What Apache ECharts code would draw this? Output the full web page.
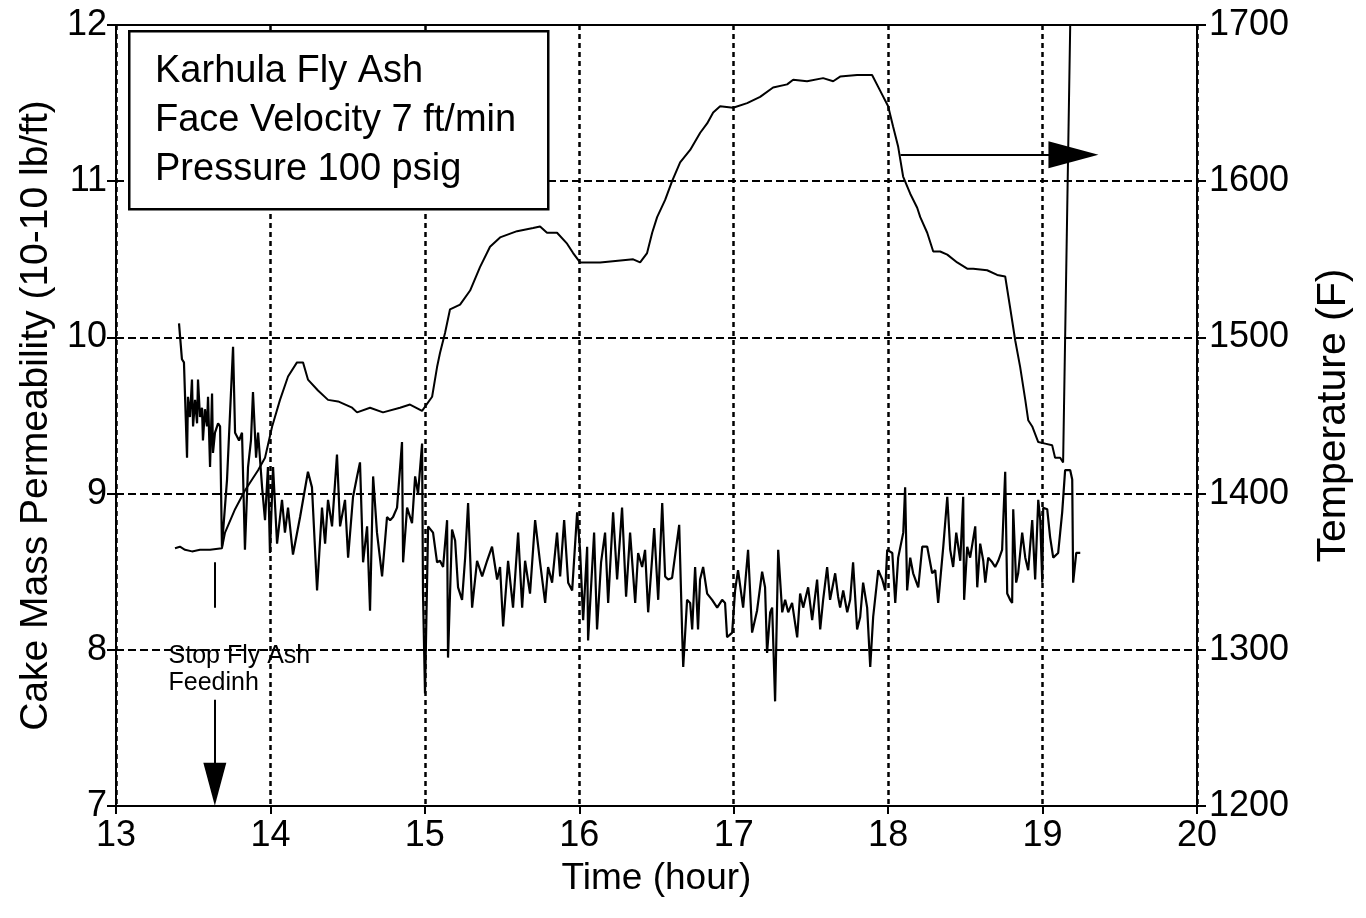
<!DOCTYPE html>
<html>
<head>
<meta charset="utf-8">
<script src="https://cdn.jsdelivr.net/npm/echarts@6/dist/echarts.min.js"></script>
<style>
  html, body { margin: 0; padding: 0; background: #fff; }
  #chart { width: 1366px; height: 918px; }
</style>
</head>
<body>
<div id="chart"></div>
<script>
// cake mass permeability (left axis)
var permHours = [13.408, 13.427, 13.440, 13.460, 13.466, 13.479, 13.492, 13.499, 13.512, 13.525, 13.531, 13.544, 13.557, 13.563, 13.576, 13.589, 13.596, 13.609, 13.622, 13.628, 13.641, 13.661, 13.674, 13.686, 13.719, 13.758, 13.771, 13.797, 13.816, 13.835, 13.855, 13.874, 13.887, 13.907, 13.920, 13.946, 13.965, 13.984, 13.997,
  14.017, 14.043, 14.075, 14.094, 14.114, 14.146, 14.192, 14.243, 14.269, 14.302, 14.334, 14.354, 14.373, 14.399, 14.431, 14.451, 14.483, 14.503, 14.535, 14.561, 14.580, 14.600, 14.626, 14.645, 14.665, 14.690, 14.723, 14.755, 14.775, 14.794, 14.820, 14.852, 14.859, 14.885, 14.917, 14.937, 14.956, 14.982, 14.988,
  15.001, 15.021, 15.053, 15.079, 15.098, 15.118, 15.144, 15.150, 15.176, 15.196, 15.215, 15.241, 15.261, 15.280, 15.306, 15.338, 15.371, 15.403, 15.435, 15.468, 15.487, 15.507, 15.539, 15.571, 15.604, 15.630, 15.649, 15.681, 15.714, 15.746, 15.779, 15.798, 15.824, 15.856, 15.876, 15.902, 15.928, 15.954, 15.986,
  16.005, 16.025, 16.051, 16.057, 16.096, 16.115, 16.141, 16.167, 16.187, 16.219, 16.245, 16.277, 16.303, 16.329, 16.362, 16.381, 16.407, 16.426, 16.446, 16.472, 16.485, 16.511, 16.537, 16.556, 16.575, 16.601, 16.647, 16.666, 16.673, 16.698, 16.718, 16.731, 16.750, 16.769, 16.782, 16.802, 16.828, 16.860, 16.893, 16.925, 16.944, 16.957, 16.990,
  17.009, 17.028, 17.061, 17.093, 17.119, 17.151, 17.184, 17.203, 17.216, 17.236, 17.249, 17.268, 17.288, 17.314, 17.333, 17.353, 17.378, 17.411, 17.430, 17.450, 17.482, 17.508, 17.540, 17.560, 17.579, 17.605, 17.624, 17.657, 17.676, 17.689, 17.709, 17.735, 17.754, 17.773, 17.799, 17.819, 17.838, 17.864, 17.884, 17.903, 17.936, 17.962, 17.981, 17.994,
  18.027, 18.046, 18.065, 18.098, 18.110, 18.123, 18.143, 18.162, 18.195, 18.221, 18.253, 18.285, 18.305, 18.324, 18.357, 18.383, 18.402, 18.421, 18.441, 18.467, 18.486, 18.492, 18.512, 18.531, 18.564, 18.577, 18.596, 18.616, 18.629, 18.648, 18.674, 18.693, 18.713, 18.738, 18.758, 18.771, 18.790, 18.803, 18.810, 18.829, 18.842, 18.868, 18.888, 18.907, 18.933, 18.952, 18.972, 18.985, 18.998,
  19.004, 19.030, 19.049, 19.069, 19.101, 19.114, 19.127, 19.146, 19.179, 19.192, 19.198, 19.218, 19.244];
var permValues = [10.09, 9.86, 9.84, 9.23, 9.62, 9.49, 9.73, 9.43, 9.60, 9.45, 9.73, 9.49, 9.55, 9.34, 9.54, 9.43, 9.62, 9.17, 9.64, 9.26, 9.39, 9.45, 9.43, 8.66, 9.09, 9.94, 9.39, 9.34, 9.39, 8.64, 9.17, 9.34, 9.65, 9.23, 9.39, 9.04, 8.83, 9.17, 8.62,
  9.17, 8.68, 8.96, 8.75, 8.91, 8.61, 8.85, 9.14, 9.04, 8.38, 8.91, 8.68, 8.96, 8.79, 9.25, 8.79, 8.96, 8.59, 8.98, 9.11, 9.20, 8.56, 8.79, 8.25, 9.11, 8.75, 8.47, 8.85, 8.83, 8.85, 8.91, 9.33, 8.56, 8.91, 8.81, 9.11, 9.00, 9.32, 8.36,
  7.72, 8.79, 8.75, 8.56, 8.57, 8.53, 8.83, 7.95, 8.77, 8.70, 8.40, 8.32, 8.59, 8.94, 8.27, 8.57, 8.47, 8.57, 8.66, 8.45, 8.53, 8.15, 8.57, 8.27, 8.75, 8.27, 8.57, 8.36, 8.83, 8.56, 8.30, 8.53, 8.43, 8.75, 8.47, 8.83, 8.43, 8.38, 8.88,
  8.64, 8.19, 8.66, 8.06, 8.75, 8.13, 8.56, 8.75, 8.30, 8.88, 8.45, 8.91, 8.34, 8.75, 8.30, 8.62, 8.53, 8.64, 8.24, 8.59, 8.78, 8.32, 8.94, 8.47, 8.45, 8.46, 8.80, 8.11, 7.89, 8.32, 8.30, 8.13, 8.53, 8.13, 8.45, 8.53, 8.36, 8.32, 8.27, 8.32, 8.30, 8.08, 8.11,
  8.38, 8.51, 8.27, 8.64, 8.11, 8.25, 8.50, 8.40, 7.98, 8.24, 8.27, 7.67, 8.64, 8.24, 8.32, 8.24, 8.30, 8.08, 8.36, 8.27, 8.40, 8.19, 8.45, 8.13, 8.32, 8.53, 8.32, 8.49, 8.34, 8.27, 8.38, 8.24, 8.32, 8.56, 8.13, 8.21, 8.43, 8.27, 7.89, 8.21, 8.51, 8.45, 8.38, 8.64,
  8.62, 8.30, 8.59, 8.75, 9.04, 8.38, 8.59, 8.49, 8.40, 8.66, 8.66, 8.49, 8.51, 8.30, 8.66, 8.98, 8.64, 8.53, 8.75, 8.57, 8.98, 8.32, 8.66, 8.59, 8.79, 8.40, 8.68, 8.57, 8.43, 8.59, 8.56, 8.53, 8.57, 8.64, 9.14, 8.36, 8.32, 8.30, 8.90, 8.43, 8.49, 8.75, 8.59, 8.51, 8.83, 8.45, 8.96, 8.83, 8.43,
  8.91, 8.90, 8.72, 8.59, 8.62, 8.75, 8.88, 9.15, 9.15, 9.09, 8.43, 8.62, 8.62];

// temperature (right axis)
var tempHours = [13.382, 13.414, 13.447, 13.492, 13.544, 13.609, 13.686, 13.706, 13.771, 13.835, 13.920, 13.965,
  14.011, 14.062, 14.114, 14.172, 14.211, 14.243, 14.308, 14.373, 14.438, 14.529, 14.561, 14.645, 14.729, 14.839, 14.904, 14.982,
  15.047, 15.079, 15.098, 15.131, 15.163, 15.228, 15.293, 15.357, 15.422, 15.487, 15.597, 15.701, 15.746, 15.791, 15.856, 15.921, 15.960,
  16.005, 16.051, 16.135, 16.349, 16.394, 16.439, 16.472, 16.504, 16.556, 16.601, 16.653, 16.718, 16.783, 16.828, 16.867, 16.912, 16.996,
  17.087, 17.171, 17.255, 17.346, 17.385, 17.475, 17.579, 17.644, 17.689, 17.799, 17.896, 17.948,
  18.000, 18.032, 18.065, 18.097, 18.143, 18.188, 18.208, 18.253, 18.292, 18.337, 18.383, 18.447, 18.512, 18.551, 18.641, 18.706, 18.758, 18.790, 18.823, 18.855, 18.888, 18.907, 18.933, 18.972,
  19.017, 19.062, 19.081, 19.114, 19.133, 19.179];
var tempValues = [1365, 1366, 1364, 1363, 1364, 1364, 1365, 1375, 1390, 1402, 1415, 1423,
  1443, 1460, 1475, 1484, 1484, 1473, 1466, 1460, 1459, 1455, 1452, 1455, 1452, 1455, 1457, 1453,
  1462, 1481, 1490, 1503, 1518, 1521, 1530, 1545, 1558, 1564, 1568, 1570, 1571, 1567, 1567, 1560, 1554,
  1548, 1548, 1548, 1550, 1548, 1554, 1567, 1577, 1588, 1600, 1612, 1620, 1631, 1637, 1644, 1648, 1647,
  1650, 1654, 1660, 1662, 1665, 1664, 1666, 1664, 1667, 1668, 1668, 1658,
  1648, 1635, 1622, 1603, 1592, 1583, 1577, 1567, 1555, 1555, 1553, 1548, 1544, 1544, 1543, 1540, 1539, 1519, 1498, 1481, 1460, 1447, 1443, 1433,
  1432, 1431, 1423, 1423, 1420, 1700];

var xTicks = [13, 20, 1];
var leftTicks = [7, 12, 1];
var rightTicks = [1200, 1700, 100];

var noteLines = ['Karhula Fly Ash', 'Face Velocity 7 ft/min', 'Pressure 100 psig'];
var stopNote = 'Stop Fly Ash\nFeedinh';
var stopHour = 13.64;
var arrowTemp = 1617;

var permData = permHours.map(function (h, i) { return [h, permValues[i]]; });
var tempData = tempHours.map(function (h, i) { return [h, tempValues[i]]; });

var font = "'Liberation Sans', Arial, sans-serif";
var chart = echarts.init(document.getElementById('chart'));

var option = {
  backgroundColor: '#fff',
  animation: false,
  grid: {
    left: 116, right: 169, top: 25, bottom: 112,
    show: true, borderColor: '#000', borderWidth: 2
  },
  xAxis: {
    type: 'value',
    min: xTicks[0], max: xTicks[1], interval: xTicks[2],
    name: 'Time (hour)',
    nameLocation: 'middle',
    nameGap: 54,
    nameTextStyle: { fontSize: 37, color: '#000', fontFamily: font },
    axisLine: { lineStyle: { color: '#000', width: 2 } },
    axisTick: { show: true, inside: false, length: 8, lineStyle: { color: '#000', width: 2 } },
    axisLabel: { fontSize: 36, color: '#000', fontFamily: font, margin: 12 },
    splitLine: { show: true, lineStyle: { color: '#000', width: 2.5, type: [5, 4] } }
  },
  yAxis: [
    {
      type: 'value',
      position: 'left',
      min: leftTicks[0], max: leftTicks[1], interval: leftTicks[2],
      name: 'Cake Mass Permeability (10-10 lb/ft)',
      nameLocation: 'middle',
      nameRotate: 90,
      nameGap: 60,
      nameTextStyle: { fontSize: 39, color: '#000', fontFamily: font },
      axisLine: { show: true, lineStyle: { color: '#000', width: 2 } },
      axisTick: { show: true, inside: false, length: 9, lineStyle: { color: '#000', width: 2 } },
      axisLabel: { fontSize: 36, color: '#000', fontFamily: font, margin: 9 },
      splitLine: { show: true, lineStyle: { color: '#000', width: 2, type: [8, 4] } }
    },
    {
      type: 'value',
      position: 'right',
      min: rightTicks[0], max: rightTicks[1], interval: rightTicks[2],
      name: 'Temperature (F)',
      nameLocation: 'middle',
      nameRotate: 90,
      nameGap: 116,
      nameTextStyle: { fontSize: 41, color: '#000', fontFamily: font },
      axisLine: { show: true, lineStyle: { color: '#000', width: 2 } },
      axisTick: { show: true, inside: false, length: 9, lineStyle: { color: '#000', width: 2 } },
      axisLabel: {
        fontSize: 36, color: '#000', fontFamily: font, margin: 12,
        formatter: function (v) { return String(v); }
      },
      splitLine: { show: false }
    }
  ],
  series: [
    {
      name: 'Permeability',
      type: 'line',
      yAxisIndex: 0,
      data: permData,
      showSymbol: false,
      lineStyle: { color: '#000', width: 2.2 },
      markLine: {
        silent: true,
        animation: false,
        label: { show: false },
        lineStyle: { color: '#000', width: 2, type: 'solid' },
        data: [
          [{ coord: [stopHour, 8.56], symbol: 'none' }, { coord: [stopHour, 8.27], symbol: 'none' }],
          [{ coord: [stopHour, 7.68], symbol: 'none' },
           { coord: [stopHour, 7.14], symbol: 'triangle', symbolSize: [23, 43], itemStyle: { color: '#111' } }]
        ]
      },
      markPoint: {
        silent: true,
        animation: false,
        data: [{
          coord: [13.8, 7.87],
          symbol: 'rect',
          symbolSize: [1, 1],
          itemStyle: { color: 'rgba(0,0,0,0)' },
          label: {
            show: true, position: 'inside', formatter: stopNote,
            fontSize: 25, lineHeight: 27, color: '#000', fontFamily: font, align: 'left', offset: [-71, 0]
          }
        }]
      }
    },
    {
      name: 'Temperature',
      type: 'line',
      yAxisIndex: 1,
      data: tempData,
      showSymbol: false,
      lineStyle: { color: '#000', width: 2 },
      markLine: {
        silent: true,
        animation: false,
        label: { show: false },
        lineStyle: { color: '#000', width: 2, type: 'solid' },
        data: [
          [{ coord: [18.08, arrowTemp], symbol: 'none' },
           { coord: [19.2, arrowTemp], symbol: 'triangle', symbolSize: [27, 50], itemStyle: { color: '#111' } }]
        ]
      }
    }
  ],
  graphic: [
    {
      type: 'rect',
      left: 128, top: 30, z: 100,
      shape: { width: 419, height: 178 },
      style: { fill: '#fff', stroke: '#000', lineWidth: 2.5 }
    },
    {
      type: 'text',
      left: 155, top: 47, z: 101,
      style: {
        text: noteLines.join('\n'),
        fontSize: 38, lineHeight: 49, fill: '#000', fontFamily: font
      }
    }
  ]
};

chart.setOption(option);
</script>
</body>
</html>
